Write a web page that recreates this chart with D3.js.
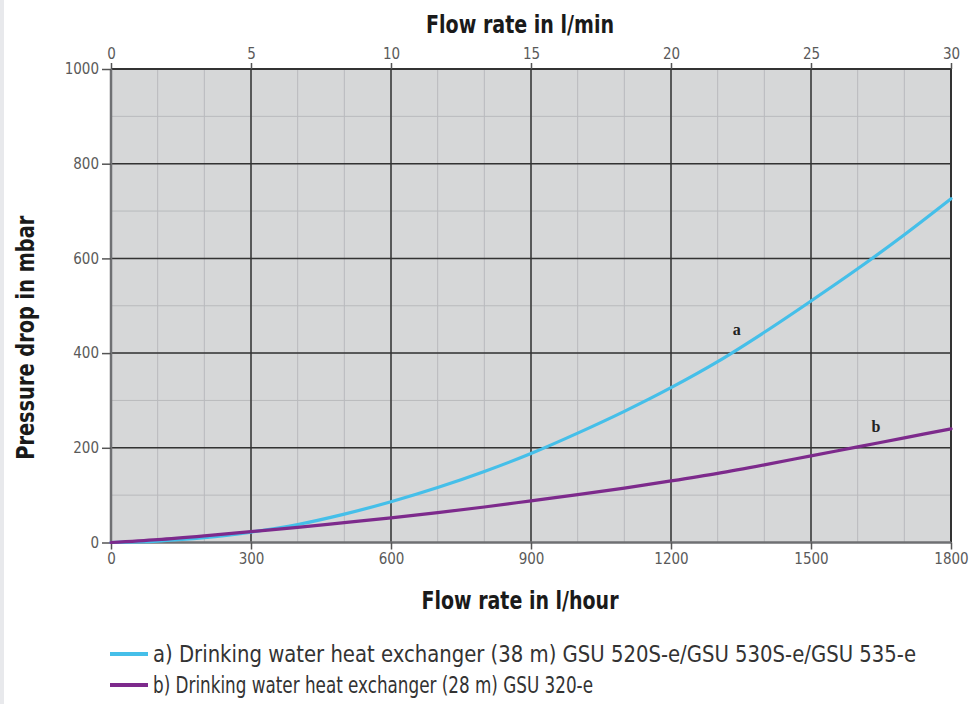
<!DOCTYPE html>
<html>
<head>
<meta charset="utf-8">
<script src="https://cdn.jsdelivr.net/npm/d3@7"></script>
<style>
  html, body { margin: 0; padding: 0; background: #fff; }
  #vis { display: block; }
  text { font-family: "Liberation Sans Narrow", "DejaVu Sans Condensed", "Roboto", sans-serif; }
</style>
</head>
<body>
<svg id="vis" width="973" height="704"></svg>
<script>
// flow rate in l/hour (bottom axis) and l/min (top axis)
var flowHour = [0, 100, 200, 300, 400, 500, 600, 700, 800, 900, 1000, 1100, 1200, 1300, 1400, 1500, 1600, 1700, 1800];
// pressure drop in mbar
var dropA = [0, 3, 10, 22, 38, 60, 86, 116, 150, 188, 231, 277, 327, 382, 444, 510, 578, 650, 726];
var dropB = [0, 6, 14, 23, 32, 42, 52, 63, 75, 88, 101, 115, 130, 146, 164, 183, 202, 221, 240];

var hourTicks = [0, 300, 600, 900, 1200, 1500, 1800];
var minTicks = [0, 5, 10, 15, 20, 25, 30];
var mbarTicks = [0, 200, 400, 600, 800, 1000];

var legendLabels = [
    "a) Drinking water heat exchanger (38 m) GSU 520S-e/GSU 530S-e/GSU 535-e",
    "b) Drinking water heat exchanger (28 m) GSU 320-e"
];
var curveLetters = ["a", "b"];
var letterPos = [[1341, 445], [1639, 242]];
var colors = ["#45bfe9", "#7d2a8c"];

// layout
var margin = {top: 69, right: 22, bottom: 161.5, left: 111},
    width = 973 - margin.left - margin.right,
    height = 704 - margin.top - margin.bottom;

var svg = d3.select("#vis");

// light strip on left page edge
svg.append("rect").attr("x", 0).attr("y", 0).attr("width", 4).attr("height", 704).attr("fill", "#e8e9ec");

var g = svg.append("g")
    .attr("transform", "translate(" + margin.left + "," + margin.top + ")");

var x = d3.scaleLinear().domain([0, 1800]).range([0, width]);
var xMin = d3.scaleLinear().domain([0, 30]).range([0, width]);
var y = d3.scaleLinear().domain([0, 1000]).range([height, 0]);

// plot background
g.append("rect")
    .attr("x", 0).attr("y", 0)
    .attr("width", width).attr("height", height)
    .attr("fill", "#d6d7d8");

// minor grid
g.selectAll(".minorV")
    .data(d3.range(100, 1800, 100))
    .enter().append("line")
    .attr("x1", d => x(d)).attr("x2", d => x(d))
    .attr("y1", 0).attr("y2", height)
    .attr("stroke", "#b9babd").attr("stroke-width", 1);
g.selectAll(".minorH")
    .data(d3.range(100, 1000, 100))
    .enter().append("line")
    .attr("x1", 0).attr("x2", width)
    .attr("y1", d => y(d)).attr("y2", d => y(d))
    .attr("stroke", "#b9babd").attr("stroke-width", 1);

// major grid
g.selectAll(".majorV")
    .data(hourTicks.slice(1, -1))
    .enter().append("line")
    .attr("x1", d => x(d)).attr("x2", d => x(d))
    .attr("y1", 0).attr("y2", height)
    .attr("stroke", "#333").attr("stroke-width", 1.5);
g.selectAll(".majorH")
    .data(mbarTicks.slice(1, -1))
    .enter().append("line")
    .attr("x1", 0).attr("x2", width)
    .attr("y1", d => y(d)).attr("y2", d => y(d))
    .attr("stroke", "#333").attr("stroke-width", 1.5);

// frame
g.append("line").attr("x1", 0).attr("x2", width).attr("y1", 0).attr("y2", 0)
    .attr("stroke", "#333").attr("stroke-width", 2);
g.append("line").attr("x1", width).attr("x2", width).attr("y1", 0).attr("y2", height)
    .attr("stroke", "#333").attr("stroke-width", 2);
g.append("line").attr("x1", 0).attr("x2", 0).attr("y1", 0).attr("y2", height)
    .attr("stroke", "#6f7073").attr("stroke-width", 2.5);
g.append("line").attr("x1", 0).attr("x2", width).attr("y1", height).attr("y2", height)
    .attr("stroke", "#6f7073").attr("stroke-width", 2.5);

// axes
function styleAxis(sel) {
    sel.select(".domain").remove();
    sel.selectAll(".tick line").attr("stroke", "#555").attr("stroke-width", 1.5);
    sel.selectAll(".tick text")
        .attr("fill", "#5a5a5a")
        .style("font-size", "15px");
}

g.append("g")
    .attr("transform", "translate(0," + height + ")")
    .call(d3.axisBottom(x).tickValues(hourTicks).tickFormat(d3.format("d")).tickSize(7).tickPadding(4))
    .call(styleAxis);

g.append("g")
    .call(d3.axisTop(xMin).tickValues(minTicks).tickFormat(d3.format("d")).tickSize(6).tickPadding(4))
    .call(styleAxis);

g.append("g")
    .call(d3.axisLeft(y).tickValues(mbarTicks).tickFormat(d3.format("d")).tickSize(9).tickPadding(3))
    .call(styleAxis);

// curves
var line = d3.line()
    .x((d, i) => x(flowHour[i]))
    .y(d => y(d))
    .curve(d3.curveCatmullRom);

[dropA, dropB].forEach(function(series, i) {
    g.append("path")
        .datum(series)
        .attr("d", line)
        .attr("fill", "none")
        .attr("stroke", colors[i])
        .attr("stroke-width", 3.2)
        .attr("stroke-linecap", "round");

    g.append("text")
        .attr("x", x(letterPos[i][0]))
        .attr("y", y(letterPos[i][1]))
        .attr("text-anchor", "middle")
        .attr("dominant-baseline", "middle")
        .style("font-family", "'Liberation Serif', 'DejaVu Serif', serif")
        .style("font-weight", "bold")
        .style("font-size", "16px")
        .attr("fill", "#222")
        .text(curveLetters[i]);
});

// axis titles
svg.append("text")
    .attr("x", margin.left + width / 2 - 11)
    .attr("y", 33)
    .attr("text-anchor", "middle")
    .attr("textLength", 188).attr("lengthAdjust", "spacingAndGlyphs")
    .style("font-weight", "bold").style("font-size", "25px")
    .attr("fill", "#1a1a1a")
    .text("Flow rate in l/min");

svg.append("text")
    .attr("x", margin.left + width / 2 - 11)
    .attr("y", 609)
    .attr("text-anchor", "middle")
    .attr("textLength", 197).attr("lengthAdjust", "spacingAndGlyphs")
    .style("font-weight", "bold").style("font-size", "25px")
    .attr("fill", "#1a1a1a")
    .text("Flow rate in l/hour");

svg.append("text")
    .attr("transform", "translate(34," + (margin.top + height / 2 + 32) + ") rotate(-90)")
    .attr("text-anchor", "middle")
    .attr("textLength", 244).attr("lengthAdjust", "spacingAndGlyphs")
    .style("font-weight", "bold").style("font-size", "24px")
    .attr("fill", "#1a1a1a")
    .text("Pressure drop in mbar");

// legend
var legend = svg.append("g").attr("transform", "translate(110,654)");
var legendWidths = [763, 440];
legendLabels.forEach(function(label, i) {
    var row = legend.append("g").attr("transform", "translate(0," + (i * 31) + ")");
    row.append("line")
        .attr("x1", 0).attr("x2", 38)
        .attr("y1", 0).attr("y2", 0)
        .attr("stroke", colors[i]).attr("stroke-width", 4);
    row.append("text")
        .attr("x", 43).attr("y", 8)
        .attr("textLength", legendWidths[i]).attr("lengthAdjust", "spacingAndGlyphs")
        .style("font-size", "23px")
        .attr("fill", "#333")
        .text(label);
});
</script>
</body>
</html>
